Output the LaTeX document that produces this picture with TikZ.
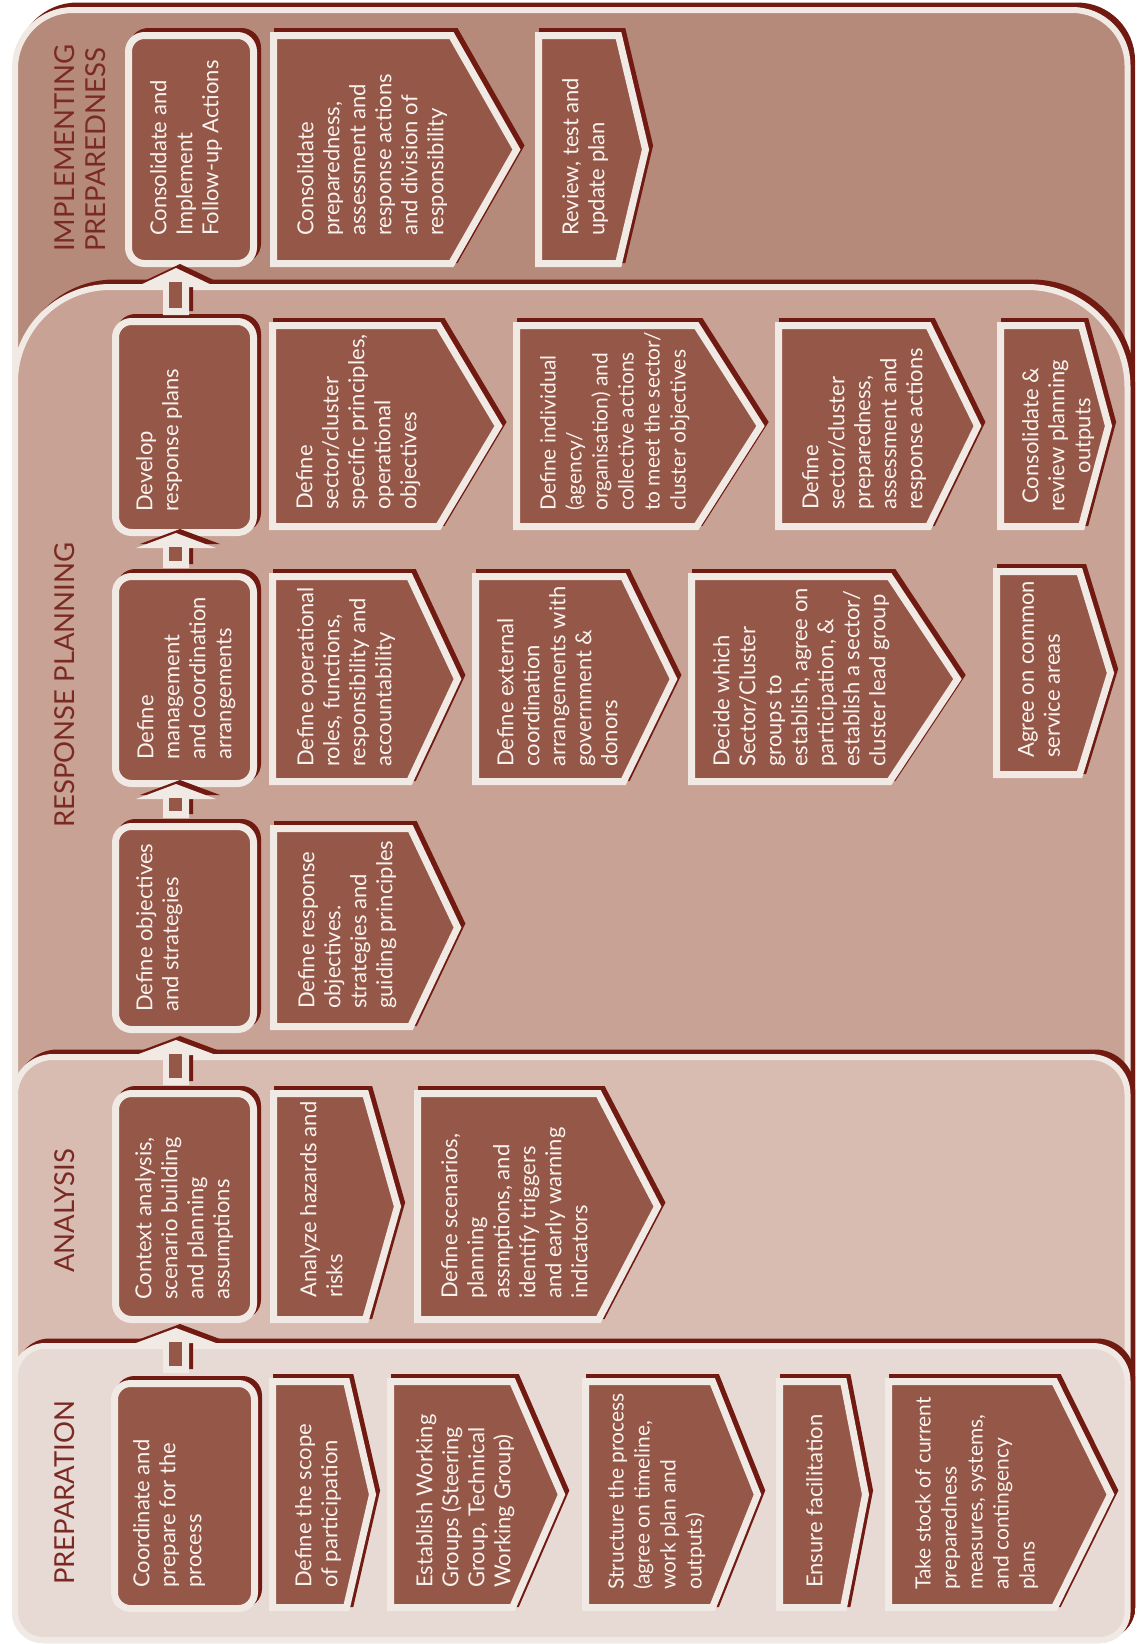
\documentclass[tikz,border=0pt]{standalone}
\usepackage{fontspec}
\setmainfont{Lato}
\usetikzlibrary{calc}
\definecolor{implc}{HTML}{B58A7A}
\definecolor{respc}{HTML}{C7A295}
\definecolor{analc}{HTML}{D8BCB2}
\definecolor{prepc}{HTML}{E7DAD5}
\definecolor{boxc}{HTML}{955748}
\definecolor{lite}{HTML}{F1E9E4}
\definecolor{shad}{HTML}{701A12}
\definecolor{titc}{HTML}{7A2A22}
\definecolor{txtc}{HTML}{F8F2EE}
\tikzset{
  regionbg/.style={fill=#1, draw=lite, line width=6pt},
  regionsh/.style={fill=shad, draw=shad, line width=6pt},
  boxsh/.style={fill=shad, draw=shad, line width=7pt},
  boxbg/.style={fill=boxc, draw=lite, line width=7pt},
  boxtext/.style={rotate=90, anchor=north west, inner sep=0pt, align=left, text=txtc, font=\fontsize{22}{26}\selectfont},
  tighttext/.style={boxtext, font=\fontsize{21}{26}\selectfont},
  phasetitle/.style={rotate=90, anchor=north west, inner sep=0pt, align=left, text=titc, font=\fontsize{27.5}{31}\selectfont},
}
% region: #1 style, #2 top, #3 left radius, #4 right radius
\newcommand\regiondraw[4]{%
  \path[#1] (15,1600) -- (15,{#2+#3}) .. controls (15,{#2+0.4477*#3}) and ({15+0.4477*#3},#2) .. ({15+#3},#2)
    -- ({1127.5-#4},#2) .. controls ({1127.5-0.4477*#4},#2) and (1127.5,{#2+0.4477*#4}) .. (1127.5,{#2+#4})
    -- (1127.5,1612) .. controls (1127.5,1627.5) and (1115,1640) .. (1099.5,1640)
    -- (43,1640) .. controls (27.5,1640) and (15,1627.5) .. (15,1612) -- cycle;}
% pentagon: outer x1, shoulder, point, y1, y2
\newcommand\pent[5]{%
  \path[boxsh, shift={(4,-4)}] ({#1+3.5},{#4+3.5}) -- ({#2-3.5},{#4+3.5}) -- ({#3-4.5},{(#4+#5)/2}) -- ({#2-3.5},{#5-3.5}) -- ({#1+3.5},{#5-3.5}) -- cycle;
  \path[boxbg] ({#1+3.5},{#4+3.5}) -- ({#2-3.5},{#4+3.5}) -- ({#3-4.5},{(#4+#5)/2}) -- ({#2-3.5},{#5-3.5}) -- ({#1+3.5},{#5-3.5}) -- cycle;}
% header box: outer x1 x2 y1 y2
\newcommand\hdrbox[4]{%
  \path[boxsh, rounded corners=16pt, shift={(4,-4)}] ({#1+3.5},{#3+3.5}) rectangle ({#2-3.5},{#4-3.5});
  \path[boxbg, rounded corners=16pt] ({#1+3.5},{#3+3.5}) rectangle ({#2-3.5},{#4-3.5});}
% block arrow: tip, base, bottom
\newcommand\blockarrow[3]{%
  \fill[shad, shift={(4,-4)}] (163,#3) -- (163,#2) -- (136,#2) -- (176,#1) -- (216,#2) -- (189,#2) -- (189,#3) -- cycle;
  \fill[lite] (163,#3) -- (163,#2) -- (136,#2) -- (176,#1) -- (216,#2) -- (189,#2) -- (189,#3) -- cycle;
  \fill[boxc] (169,{#1+14}) rectangle (182,{#3-7});}
\begin{document}
\begin{tikzpicture}[x=1pt,y=-1pt]
\useasboundingbox (0,0) rectangle (1136,1644);
\fill[white] (0,0) rectangle (1136,1644);
% phase regions
\regiondraw{regionsh, shift={(4.5,-4.5)}}{10}{58}{55}
\regiondraw{regionbg=implc}{10}{58}{55}
\regiondraw{regionsh, shift={(4.5,-4.5)}}{287}{95}{100}
\regiondraw{regionbg=respc}{287}{95}{100}
\regiondraw{regionsh, shift={(4.5,-4.5)}}{1057}{38}{37}
\regiondraw{regionbg=analc}{1057}{38}{37}
\regiondraw{regionsh, shift={(4.5,-4.5)}}{1346}{30}{35}
\regiondraw{regionbg=prepc}{1346}{30}{35}
% titles
\node[phasetitle] (ttl_impl) at (54,252) {IMPLEMENTING\\PREPAREDNESS};
\node[phasetitle] (ttl_resp) at (54,828) {RESPONSE PLANNING};
\node[phasetitle] (ttl_anal) at (54,1273) {ANALYSIS};
\node[phasetitle] (ttl_prep) at (54,1585) {PREPARATION};
% ---------- IMPLEMENTING ----------
\hdrbox{125}{257}{32}{267}
\pent{270}{455}{521}{32}{267}
\pent{535}{622}{650}{32}{267}
\node[boxtext] (h_impl) at (150,236) {Consolidate and\\Implement\\Follow-up Actions};
\node[boxtext] (i1) at (297,236) {Consolidate\\preparedness,\\assessment and\\response actions\\and division of\\responsibility};
\node[boxtext] (i2) at (562,236) {Review, test and\\update plan};
% ---------- RESPONSE PLANNING ----------
\hdrbox{112}{257}{318}{536}
\pent{269}{442}{503}{322}{530}
\pent{513}{700}{765}{322}{530}
\pent{775}{932}{982}{322}{530}
\pent{997}{1085}{1113}{322}{530}
\node[boxtext] (h_dev) at (136,512) {Develop\\response plans};
\node[boxtext] (r1a) at (296,510) {Define\\sector/cluster\\specific principles,\\operational\\objectives};
\node[tighttext] (r1b) at (540,511) {Define individual\\(agency/\\organisation) and\\collective actions\\to meet the sector/\\cluster objectives};
\node[boxtext] (r1c) at (802,510) {Define\\sector/cluster\\preparedness,\\assessment and\\response actions};
\node[boxtext, align=center] (r1d) at (1022,512) {Consolidate \&\\review planning\\outputs};
\hdrbox{112}{257}{573}{787}
\pent{269}{413}{462}{573}{785}
\pent{472}{627}{678}{573}{785}
\pent{688}{893}{962}{573}{785}
\pent{993}{1083}{1115}{568}{778}
\node[boxtext] (h_mgmt) at (137,760) {Define\\management\\and coordination\\arrangements};
\node[boxtext] (r2a) at (297,767) {Define operational\\roles, functions,\\responsibility and\\accountability};
\node[boxtext] (r2b) at (497,767) {Define external\\coordination\\arrangements with\\government \&\\donors};
\node[boxtext] (r2c) at (713,767) {Decide which\\Sector/Cluster\\groups to\\establish, agree on\\participation, \&\\establish a sector/\\cluster lead group};
\node[boxtext] (r2d) at (1018,758) {Agree on common\\service areas};
\hdrbox{112}{257}{823}{1033}
\pent{270}{414}{462}{825}{1030}
\node[boxtext] (h_obj) at (136,1012) {Define objectives\\and strategies};
\node[boxtext] (r3a) at (298,1009) {Define response\\objectives.\\strategies and\\guiding principles};
% ---------- ANALYSIS ----------
\hdrbox{112}{257}{1090}{1323}
\pent{270}{369}{402}{1090}{1323}
\pent{414}{602}{662}{1090}{1323}
\node[boxtext] (h_ctx) at (135,1300) {Context analysis,\\scenario building\\and planning\\assumptions};
\node[boxtext] (a1) at (300,1298) {Analyze hazards and\\risks};
\node[boxtext] (a2) at (441,1299) {Define scenarios,\\planning\\assmptions, and\\identify triggers\\and early warning\\indicators};
% ---------- PREPARATION ----------
\hdrbox{111}{258}{1380}{1612}
\pent{269}{350}{377}{1378}{1611}
\pent{387}{516}{566}{1378}{1611}
\pent{582}{716}{762}{1378}{1611}
\pent{776}{847}{870}{1378}{1611}
\pent{885}{1058}{1115}{1378}{1611}
\node[boxtext] (h_coord) at (133,1588) {Coordinate and\\prepare for the\\process};
\node[boxtext] (p1) at (295,1588) {Define the scope\\of participation};
\node[boxtext] (p2) at (416,1588) {Establish Working\\Groups (Steering\\Group, Technical\\Working Group)};
\node[tighttext] (p3) at (608,1590) {Structure the process\\(agree on timeline,\\work plan and\\outputs)};
\node[boxtext] (p4) at (806,1588) {Ensure facilitation};
\node[tighttext] (p5) at (915,1590) {Take stock of current\\preparedness\\measures, systems,\\and contingency\\plans};
% ---------- block arrows between steps ----------
\blockarrow{1328}{1343}{1373}
\blockarrow{1040}{1055}{1085}
\blockarrow{784}{799}{818}
\blockarrow{533}{548}{568}
\blockarrow{268}{287}{315}
\end{tikzpicture}
\end{document}
